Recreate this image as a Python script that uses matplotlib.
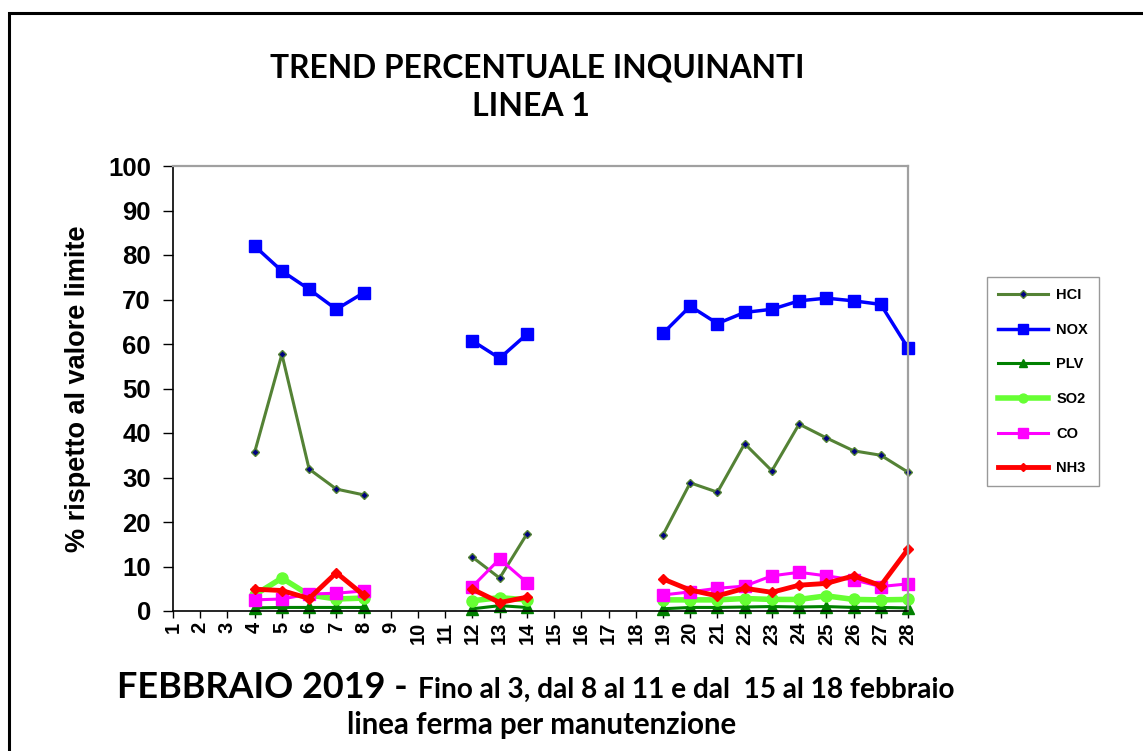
import numpy as np
import matplotlib
matplotlib.use("Agg")
import matplotlib.pyplot as plt
from matplotlib.patches import Rectangle

nan = np.nan
days = list(range(1, 29))
day_labels = [str(d) for d in days]

hcl = [nan, nan, nan, 35.7, 57.7, 31.9, 27.4, 26.1, nan, nan, nan, 12.1, 7.4, 17.3,
       nan, nan, nan, nan, 17.1, 28.8, 26.7, 37.6, 31.5, 42.0, 38.9, 36.0, 35.0, 31.2]
nox = [nan, nan, nan, 82.0, 76.4, 72.3, 67.8, 71.5, nan, nan, nan, 60.7, 56.8, 62.2,
       nan, nan, nan, nan, 62.4, 68.5, 64.6, 67.1, 67.8, 69.7, 70.3, 69.7, 68.9, 59.1]
plv = [nan, nan, nan, 0.7, 0.8, 0.8, 0.8, 0.8, nan, nan, nan, 0.5, 1.2, 0.8,
       nan, nan, nan, nan, 0.5, 0.8, 0.8, 0.9, 1.0, 0.9, 1.0, 0.8, 0.8, 0.7]
so2 = [nan, nan, nan, 3.6, 7.4, 3.6, 2.7, 2.9, nan, nan, nan, 2.3, 3.0, 2.5,
       nan, nan, nan, nan, 2.5, 2.5, 2.5, 2.8, 2.6, 2.6, 3.4, 2.6, 2.5, 2.6]
co = [nan, nan, nan, 2.5, 2.7, 3.8, 4.0, 4.5, nan, nan, nan, 5.5, 11.7, 6.4,
      nan, nan, nan, nan, 3.6, 4.3, 5.1, 5.6, 7.9, 8.7, 7.9, 7.0, 5.5, 6.1]
nh3 = [nan, nan, nan, 4.9, 4.6, 2.8, 8.6, 3.6, nan, nan, nan, 4.9, 1.9, 3.1,
       nan, nan, nan, nan, 7.2, 4.7, 3.4, 5.1, 4.2, 5.8, 6.2, 7.9, 5.7, 13.9]

legend_labels = ["HCI", "NOX", "PLV", "SO2", "CO", "NH3"]
title_lines = ["TREND PERCENTUALE INQUINANTI", "LINEA 1"]
ylabel = "% rispetto al valore limite"
xlabel_big = "FEBBRAIO 2019 -"
xlabel_small = "Fino al 3, dal 8 al 11 e dal  15 al 18 febbraio"
xlabel_line2 = "linea ferma per manutenzione"

W, H = 1143, 751
fig = plt.figure(figsize=(W / 100, H / 100), dpi=100)
fig.patch.set_facecolor("white")

# chart-area border
fig.add_artist(Rectangle((9 / W, -0.1), 1.2, (H - 12.5) / H + 0.1, transform=fig.transFigure,
                         fill=False, edgecolor="black", linewidth=2.2))

ax = fig.add_axes([173 / W, 1 - 611 / H, (908 - 173) / W, (611 - 166) / H])

x = np.array(days)
styles = [
    dict(color="#548235", lw=2.2, marker="D", ms=4.5, mfc="#000080", mec="#548235", mew=1.0),
    dict(color="#0000ff", lw=2.5, marker="s", ms=8.5, mfc="#0000ff", mec="#0000ff"),
    dict(color="#008000", lw=2.2, marker="^", ms=8, mfc="#008000", mec="#008000"),
    dict(color="#66ff33", lw=4, marker="o", ms=8, mfc="#66ff33", mec="#66ff33"),
    dict(color="#ff00ff", lw=2.2, marker="s", ms=8.5, mfc="#ff00ff", mec="#ff00ff"),
    dict(color="#ff0000", lw=3.5, marker="D", ms=5, mfc="#ff0000", mec="#ff0000"),
]
for vals, lab, st in zip([hcl, nox, plv, so2, co, nh3], legend_labels, styles):
    ax.plot(x, vals, label=lab, clip_on=False, **st)

ax.set_xlim(1, 28)
ax.set_ylim(0, 100)
ax.set_yticks(range(0, 101, 10))
ax.set_xticks(days)
ax.set_xticklabels(day_labels, rotation=90)

for lab in ax.get_yticklabels():
    lab.set_fontsize(18.5)
    lab.set_fontfamily("Liberation Sans")
    lab.set_fontweight("bold")
for lab in ax.get_xticklabels():
    lab.set_fontsize(14.5)
    lab.set_fontfamily("Liberation Sans")
    lab.set_fontweight("bold")

ax.tick_params(axis="y", direction="out", length=7, width=1, pad=9)
ax.tick_params(axis="x", direction="out", length=5, width=1, pad=3)

for s in ["left", "bottom"]:
    ax.spines[s].set_color("black")
    ax.spines[s].set_linewidth(1.2)
for s in ["top", "right"]:
    ax.spines[s].set_color("#a0a0a0")
    ax.spines[s].set_linewidth(1.6)

ax.set_ylabel(ylabel, fontsize=19.5, fontfamily="Liberation Sans", fontweight="bold", labelpad=12)

leg = fig.legend(loc="upper left", bbox_to_anchor=(987 / W, 1 - 277 / H),
                 prop=dict(family="Liberation Sans", weight="bold", size=10.5),
                 frameon=True, fancybox=False, edgecolor="#808080", handlelength=3.4,
                 labelspacing=1.42, borderpad=0.75, handletextpad=0.6, markerscale=0.8,
                 borderaxespad=0)
leg.get_frame().set_linewidth(1.0)

fig.canvas.draw()
r = fig.canvas.get_renderer()


def fit_text(xc, yc, s, target_w, size, ha="center", **kw):
    t = fig.text(xc / W, 1 - yc / H, s, ha=ha, va="center", fontsize=size, **kw)
    w = t.get_window_extent(renderer=r).width
    t.set_fontsize(size * target_w / w)
    return t


fit_text(537.5, 68, title_lines[0], 535, 22, fontweight="bold", fontfamily="Lato")
fit_text(531, 107, title_lines[1], 118, 22, fontweight="bold", fontfamily="Lato")
fit_text(117, 688, xlabel_big, 291, 21, ha="left", fontweight="bold", fontfamily="Lato")
fit_text(418, 690, xlabel_small, 537, 16, ha="left", fontweight="bold", fontfamily="Lato")
fit_text(541.5, 725, xlabel_line2, 393, 16, fontweight="bold", fontfamily="Lato")

fig.savefig("out.png", dpi=100)
